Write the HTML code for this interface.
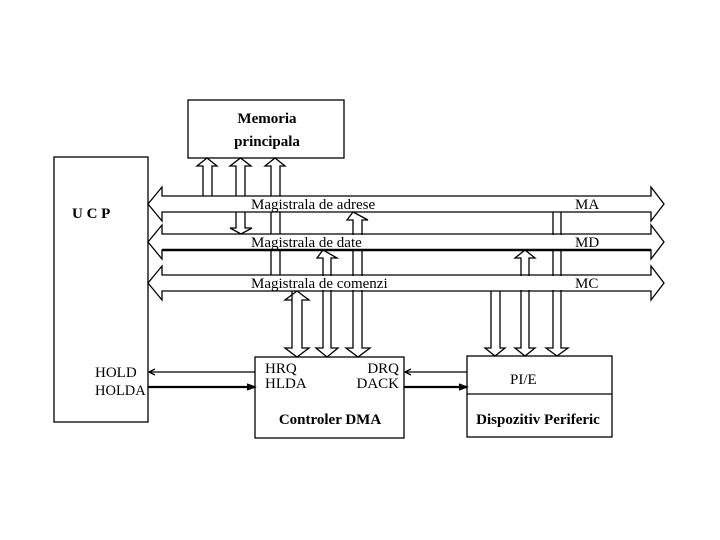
<!DOCTYPE html>
<html><head><style>body{margin:0;background:#fff}svg{display:block}</style></head><body>
<svg width="720" height="540" xmlns="http://www.w3.org/2000/svg" font-family="Liberation Serif, serif" fill="none" stroke="#000" stroke-width="1.3">
<rect x="0" y="0" width="720" height="540" fill="#fff" stroke="none"/>
<rect x="54" y="157" width="94" height="265"/>
<rect x="188" y="100" width="156" height="58"/>
<rect x="255" y="357" width="149" height="81"/>
<rect x="467" y="356" width="145" height="81"/>
<line x1="467" y1="394" x2="612" y2="394"/>
<!-- memory arrows -->
<path d="M203,196 L203,166 L197,166 L207,158 L217,166 L212,166 L212,196"/>
<path d="M236,196 L236,166 L230,166 L240.5,158 L251,166 L245,166 L245,196"/>
<path d="M236,212 L236,228 L230,228 L241,234 L252,228 L245,228 L245,212"/>
<path d="M271,196 L271,166 L265,166 L275,158 L285,166 L280,166 L280,196"/>
<line x1="271" y1="212" x2="271" y2="234"/><line x1="280" y1="212" x2="280" y2="234"/>
<line x1="271" y1="250" x2="271" y2="275"/><line x1="280" y1="250" x2="280" y2="275"/>
<!-- DMA arrows -->
<path d="M292,291 L292,300 L285,300 L297,291 L309,300 L302,300 L302,348 L309,348 L297,357 L285,348 L292,348 Z"/>
<path d="M323,250 L317,258 L323,258 L323,348 L316,348 L327,357 L338,348 L331,348 L331,258 L337,258 Z"/>
<path d="M353,212 L347,220 L353,220 L353,348 L346,348 L358,357 L370,348 L362,348 L362,220 L368,220 Z"/>
<!-- peripheral arrows -->
<path d="M491,291 L491,348 L485,348 L495,356 L505,348 L500,348 L500,291"/>
<path d="M525,250 L515,258 L521,258 L521,348 L515,348 L525,356 L535,348 L529,348 L529,258 L535,258 Z"/>
<path d="M553,212 L553,348 L546,348 L557,356 L568,348 L561,348 L561,212"/>
<!-- bus interiors mask -->
<g fill="#fff" stroke="none">
<rect x="162" y="197" width="489" height="14"/>
<rect x="162" y="235" width="489" height="14"/>
<rect x="162" y="276" width="489" height="14"/>
</g>
<!-- buses -->
<path d="M148,204 L162,187 L162,196 L651,196 L651,187 L664,204 L651,221 L651,212 L162,212 L162,221 Z"/>
<path d="M148,242 L162,225 L162,234 L651,234 L651,225 L664,242 L651,259 L651,250 L162,250 L162,259 Z"/>
<path d="M148,283 L162,266 L162,275 L651,275 L651,266 L664,283 L651,300 L651,291 L162,291 L162,300 Z"/>
<line x1="162" y1="250" x2="651" y2="250" stroke-width="2.5"/>
<!-- signals -->
<line x1="149" y1="372" x2="255" y2="372"/><path d="M155,369 L149,372 L155,375"/>
<line x1="148" y1="387" x2="255" y2="387" stroke-width="2.2"/><path d="M247,384 L255,387 L247,390" fill="#000"/>
<line x1="405" y1="372" x2="467" y2="372"/><path d="M411,369 L405,372 L411,375"/>
<line x1="404" y1="387" x2="467" y2="387" stroke-width="2.2"/><path d="M459,384 L467,387 L459,390" fill="#000"/>
<g fill="#000" stroke="none" font-size="15">
<text x="251" y="209">Magistrala de adrese</text>
<text x="251" y="247">Magistrala de date</text>
<text x="251" y="288">Magistrala de comenzi</text>
<text x="575" y="209">MA</text>
<text x="575" y="247">MD</text>
<text x="575" y="288">MC</text>
<text x="95" y="377">HOLD</text>
<text x="95" y="395" font-size="14.5">HOLDA</text>
<text x="265" y="373">HRQ</text>
<text x="265" y="388">HLDA</text>
<text x="399" y="373" text-anchor="end">DRQ</text>
<text x="399" y="388" text-anchor="end">DACK</text>
<text x="510" y="384">PI/E</text>
<g font-weight="bold">
<text x="72" y="218">U C P</text>
<text x="267" y="123" text-anchor="middle">Memoria</text>
<text x="267" y="146" text-anchor="middle">principala</text>
<text x="330" y="424" text-anchor="middle">Controler  DMA</text>
<text x="538" y="424" text-anchor="middle">Dispozitiv Periferic</text>
</g>
</g>
</svg>
</body></html>
